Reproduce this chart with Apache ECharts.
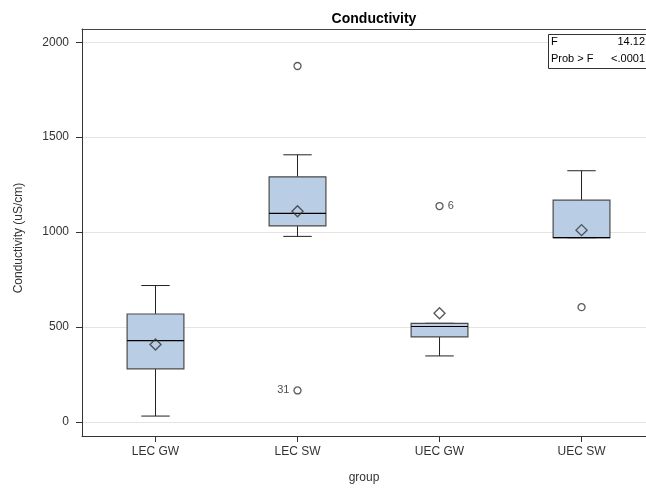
<!DOCTYPE html>
<html>
<head>
<meta charset="utf-8">
<script src="https://cdn.jsdelivr.net/npm/echarts@6/dist/echarts.min.js"></script>
<style>html,body{margin:0;padding:0;background:#fff;}#c{width:646px;height:489px;}</style>
</head>
<body>
<div id="c"></div>
<script>
const categories = ['LEC GW', 'LEC SW', 'UEC GW', 'UEC SW'];
const whiskerLow = [30, 977, 347, 970];
const q1 = [279, 1032, 447, 970];
const median = [428, 1098, 502, 970];
const q3 = [568, 1291, 519, 1168];
const whiskerHigh = [718, 1407, 519, 1323];
const means = [407, 1109, 572, 1010];
const outlierGroup = [1, 1, 2, 3];
const outlierValue = [1875, 165, 1137, 604];
const outlierLabel = ['', '31', '6', ''];
const outlierLabelSide = ['left', 'left', 'right', 'left'];
const yTicks = [0, 500, 1000, 1500, 2000];
const statF = '14.12';
const statP = '<.0001';

const FONT = '"Liberation Sans", Arial, sans-serif';
const boxData = categories.map((c, i) => [i, whiskerLow[i], q1[i], median[i], q3[i], whiskerHigh[i]]);
const meanData = categories.map((c, i) => [i, means[i]]);
const outData = outlierValue.map((v, i) => ({
  value: [outlierGroup[i], v], lbl: outlierLabel[i],
  label: { position: outlierLabelSide[i] }
}));

const X_MIN = -0.5176, X_MAX = 3.454;

const chart = echarts.init(document.getElementById('c'), null, { renderer: 'canvas' });
chart.setOption({
  animation: false,
  backgroundColor: '#fff',
  title: {
    text: 'Conductivity', left: 369, top: 7, textAlign: 'center',
    textStyle: { fontFamily: FONT, fontSize: 14, fontWeight: 'bold', color: '#000' }
  },
  grid: { left: 82, right: 0, top: 29, bottom: 53 },
  xAxis: [{
    type: 'value', min: X_MIN, max: X_MAX,
    name: 'group', nameLocation: 'middle', nameGap: 36,
    nameTextStyle: { fontFamily: FONT, fontSize: 12, color: '#333' },
    axisLine: { show: true, onZero: false, lineStyle: { color: '#333' } },
    axisTick: { show: true, length: 6, customValues: [0, 1, 2, 3], lineStyle: { color: '#333' } },
    axisLabel: { customValues: [0, 1, 2, 3], formatter: v => categories[Math.round(v)] || '', fontFamily: FONT, fontSize: 12, color: '#333', margin: 10 },
    splitLine: { show: false }
  }, {
    type: 'value', position: 'top', min: X_MIN, max: X_MAX,
    axisLine: { show: true, onZero: false, lineStyle: { color: '#444' } },
    axisTick: { show: false }, axisLabel: { show: false }, splitLine: { show: false }
  }],
  yAxis: {
    type: 'value', min: -75, max: 2070,
    axisLine: { show: true, onZero: false, lineStyle: { color: '#333' } },
    axisTick: { show: true, length: 6, customValues: yTicks, lineStyle: { color: '#333' } },
    axisLabel: { customValues: yTicks, formatter: v => String(v), fontFamily: FONT, fontSize: 12, color: '#333', margin: 13 },
    splitLine: { show: true, lineStyle: { color: '#e4e4e4' } }
  },
  graphic: [
    { type: 'text', x: 19, y: 238, rotation: Math.PI / 2, style: { text: 'Conductivity (uS/cm)', font: '12px ' + FONT, fill: '#333', textAlign: 'center', textVerticalAlign: 'middle' } },
    { type: 'rect', shape: { x: 548.5, y: 34.5, width: 110, height: 34 }, style: { fill: '#fff', stroke: '#333', lineWidth: 1 }, z: 100 },
    { type: 'text', x: 551, y: 42, style: { text: 'F', font: '11px ' + FONT, fill: '#000', textVerticalAlign: 'middle' }, z: 101 },
    { type: 'text', x: 645, y: 42, style: { text: statF, font: '11px ' + FONT, fill: '#000', textAlign: 'right', textVerticalAlign: 'middle' }, z: 101 },
    { type: 'text', x: 551, y: 59, style: { text: 'Prob > F', font: '11px ' + FONT, fill: '#000', textVerticalAlign: 'middle' }, z: 101 },
    { type: 'text', x: 645, y: 59, style: { text: statP, font: '11px ' + FONT, fill: '#000', textAlign: 'right', textVerticalAlign: 'middle' }, z: 101 }
  ],
  series: [
    {
      type: 'custom',
      data: boxData,
      encode: { x: 0, y: [1, 2, 3, 4, 5] },
      renderItem: function (params, api) {
        const x = api.value(0);
        const lo = api.coord([x, api.value(1)]);
        const b1 = api.coord([x, api.value(2)]);
        const md = api.coord([x, api.value(3)]);
        const b3 = api.coord([x, api.value(4)]);
        const hi = api.coord([x, api.value(5)]);
        const hw = api.size([0.2, 0])[0];
        const cw = api.size([0.1, 0])[0];
        const cx = lo[0];
        const ls = { stroke: '#222', lineWidth: 1 };
        return {
          type: 'group',
          children: [
            { type: 'line', shape: { x1: cx, y1: lo[1], x2: cx, y2: b1[1] }, style: ls },
            { type: 'line', shape: { x1: cx, y1: b3[1], x2: cx, y2: hi[1] }, style: ls },
            { type: 'line', shape: { x1: cx - cw, y1: lo[1], x2: cx + cw, y2: lo[1] }, style: ls },
            { type: 'line', shape: { x1: cx - cw, y1: hi[1], x2: cx + cw, y2: hi[1] }, style: ls },
            { type: 'rect', shape: { x: cx - hw, y: b3[1], width: 2 * hw, height: b1[1] - b3[1] }, style: { fill: '#b9cde5', stroke: '#4a4a4a', lineWidth: 1.2 } },
            { type: 'line', shape: { x1: cx - hw, y1: md[1], x2: cx + hw, y2: md[1] }, style: { stroke: '#000', lineWidth: 1.2 } }
          ]
        };
      },
      z: 2
    },
    {
      type: 'scatter',
      data: meanData,
      symbol: 'diamond',
      symbolSize: 11,
      itemStyle: { color: 'rgba(0,0,0,0)', borderColor: '#333', borderWidth: 1.4 },
      z: 5
    },
    {
      type: 'scatter',
      data: outData,
      symbol: 'circle',
      symbolSize: 7,
      itemStyle: { color: 'rgba(0,0,0,0)', borderColor: '#333', borderWidth: 1.3 },
      label: {
        show: true,
        formatter: p => p.data.lbl,
        fontFamily: FONT, fontSize: 11, color: '#222', distance: 4
      },
      z: 5
    }
  ]
});
</script>
</body>
</html>
